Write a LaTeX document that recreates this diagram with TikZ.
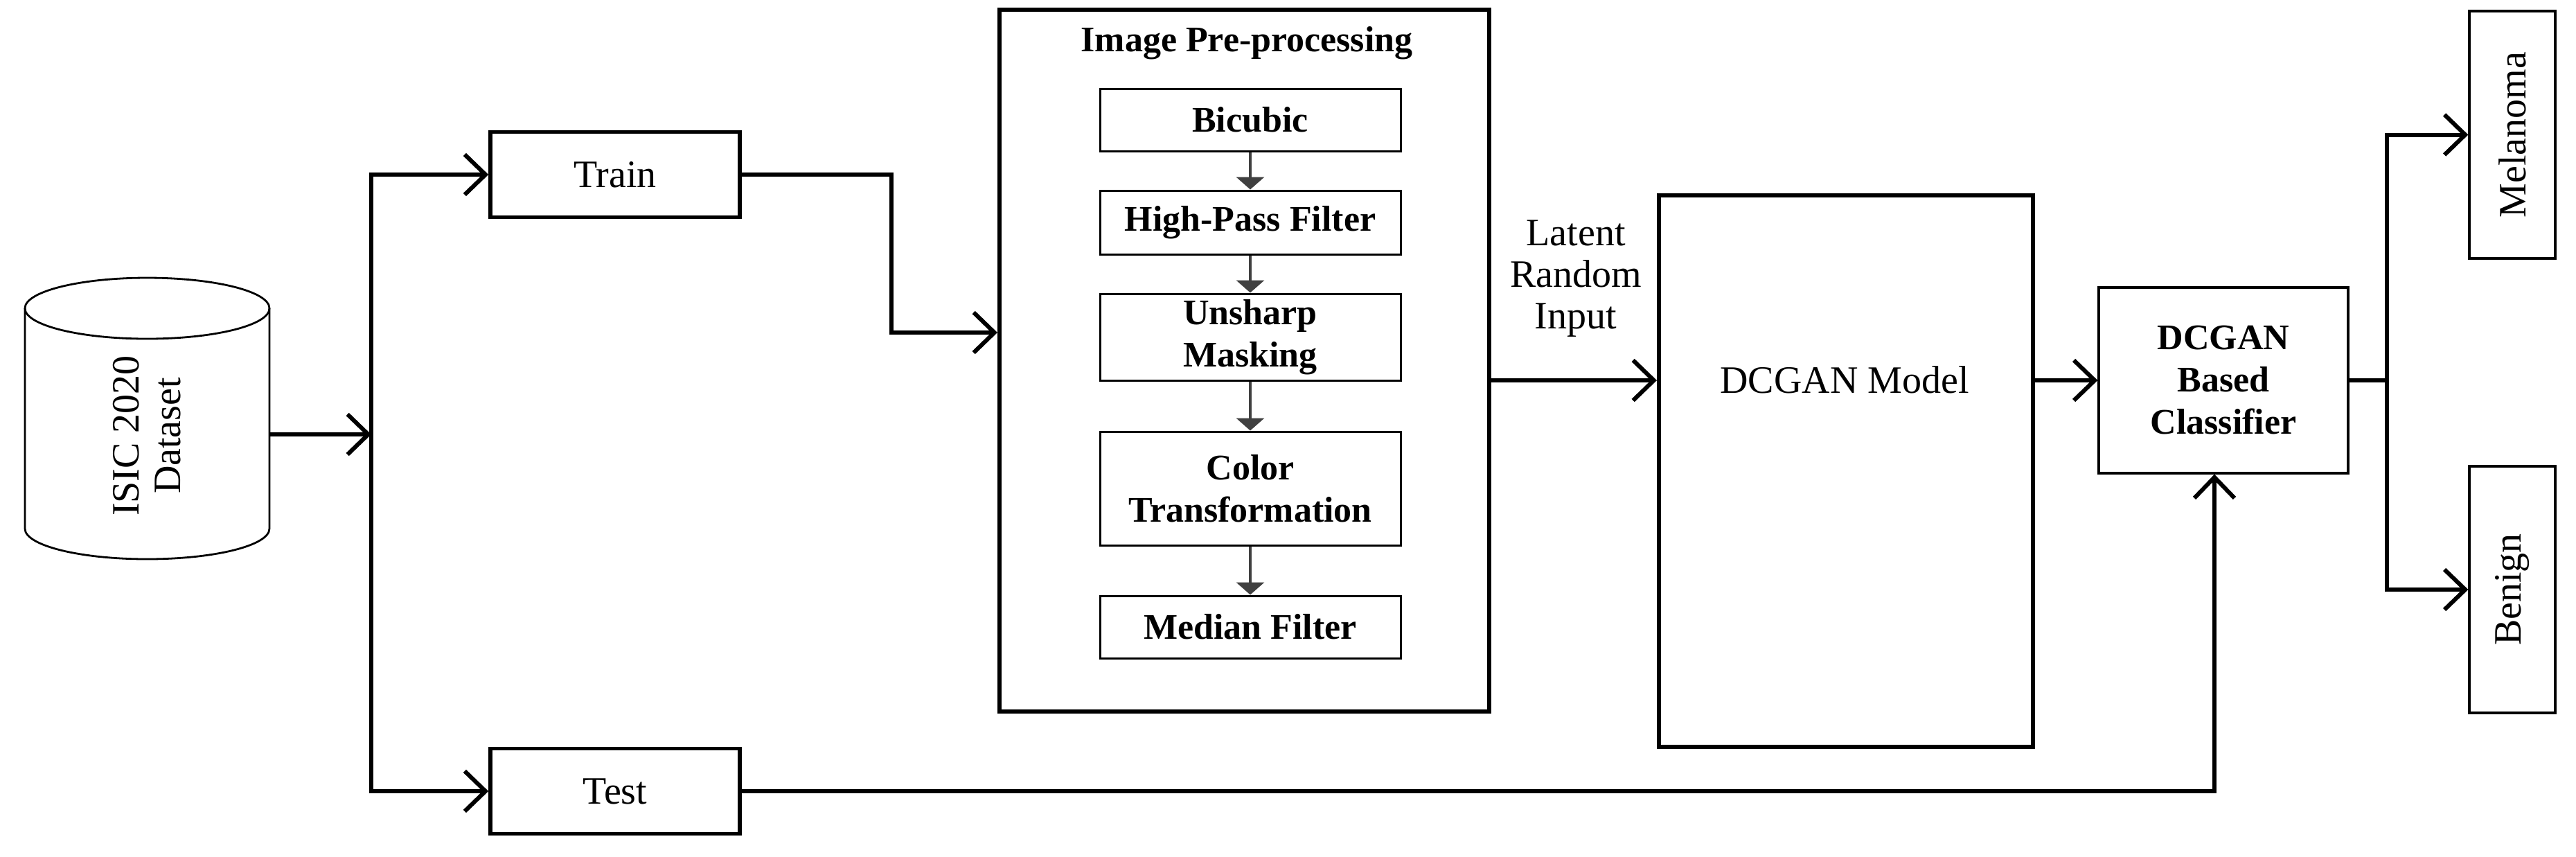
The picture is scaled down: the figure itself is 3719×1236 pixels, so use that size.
\documentclass[tikz,border=0pt]{standalone}
\usepackage{fontspec}
\setmainfont{Liberation Serif}
\usetikzlibrary{arrows.meta}
\begin{document}
\begin{tikzpicture}[x=0.25pt,y=-0.25pt,
  nfont/.style={font=\fontsize{14}{15}\selectfont},
  bfont/.style={font=\fontsize{13}{15.25}\selectfont\bfseries},
  wbox/.style={draw, line width=1.4pt, inner sep=0pt},
  ibox/.style={draw, line width=0.75pt, inner sep=0pt, minimum width=108.5pt, bfont, align=center},
  thinbox/.style={draw, line width=0.8pt, inner sep=0pt},
  conn/.style={line width=1.5pt},
  arr/.style={conn, -{Straight Barb[length=7.5pt,width=14.5pt]}},
  garr/.style={line width=1pt, draw=black!75, -{Triangle[length=4.5pt,width=10pt]}}]

\useasboundingbox (0,0) rectangle (3719,1236);

% dataset cylinder
\draw[line width=0.7pt] (212.5,445) ellipse [x radius=176.5, y radius=44];
\draw[line width=0.7pt] (36,445) -- (36,763) arc[start angle=180,end angle=0,x radius=176.5,y radius=44] -- (389,445);
\node[nfont, rotate=90, align=center] (ds) at (212,629) {ISIC 2020\\Dataset};
\coordinate (dsE) at (389,627);
\coordinate (jm) at (536,627);

% train / test
\node[wbox, nfont, minimum width=90pt, minimum height=30.75pt] (train) at (888,252) {Train};
\node[wbox, nfont, minimum width=90pt, minimum height=30.75pt] (test) at (888,1142) {Test};
\draw[arr] (dsE) -- (jm);
\draw[arr] (jm) |- (train.west);
\draw[arr] (jm) |- (test.west);

% pre-processing
\node[draw, line width=1.5pt, minimum width=176.75pt, minimum height=253.25pt, inner sep=0pt] (pre) at (1796.5,520.5) {};
\node[bfont] (pretitle) at (1800,62) {Image Pre-processing};
\node[ibox, minimum height=22.5pt] (bic) at (1805,173) {Bicubic};
\node[ibox, minimum height=23pt] (hp) at (1805,321) {High-Pass Filter};
\node[ibox, minimum height=31.25pt] (us) at (1805,486.5) {Unsharp\\Masking};
\node[ibox, minimum height=41pt] (ct) at (1805,705) {Color\\Transformation};
\node[ibox, minimum height=22.5pt] (mf) at (1805,905) {Median Filter};
\draw[garr] (bic.south) -- (hp.north);
\draw[garr] (hp.south) -- (us.north);
\draw[garr] (us.south) -- (ct.north);
\draw[garr] (ct.south) -- (mf.north);

\coordinate (tp) at (1287,480);
\draw[arr] (train.east) -| (tp) -- (tp -| pre.west);

% latent / model
\node[nfont, align=center] (lat) at (2275,402) {Latent\\Random\\Input};
\node[draw, line width=1.5pt, minimum width=135pt, minimum height=199pt, inner sep=0pt] (model) at (2665,680) {};
\node[nfont] (modeltext) at (2663,548) {DCGAN Model};

% classifier
\node[thinbox, minimum width=90pt, minimum height=67pt, bfont, align=center] (cl) at (3210,549) {DCGAN\\Based\\Classifier};
\draw[arr] (pre.east |- cl.west) -- (model.west |- cl.west);
\draw[arr] (model.east |- cl.west) -- (cl.west);

% outputs
\node[thinbox, minimum width=31pt, minimum height=89.25pt] (mel) at (3627,194.5) {};
\node[nfont, rotate=90] (meltext) at (mel.center) {Melanoma};
\node[thinbox, minimum width=31pt, minimum height=89pt] (ben) at (3627,851) {};
\node[nfont, rotate=90] (bentext) at (ben.center) {Benign};
\coordinate (br) at (3446,549);
\draw[conn] (cl.east) -- (br);
\draw[arr] (br) |- (mel.west);
\draw[arr] (br) |- (ben.west);

% test to classifier
\draw[arr] (test.east) -| ([xshift=-3.25pt]cl.south);
\end{tikzpicture}
\end{document}
